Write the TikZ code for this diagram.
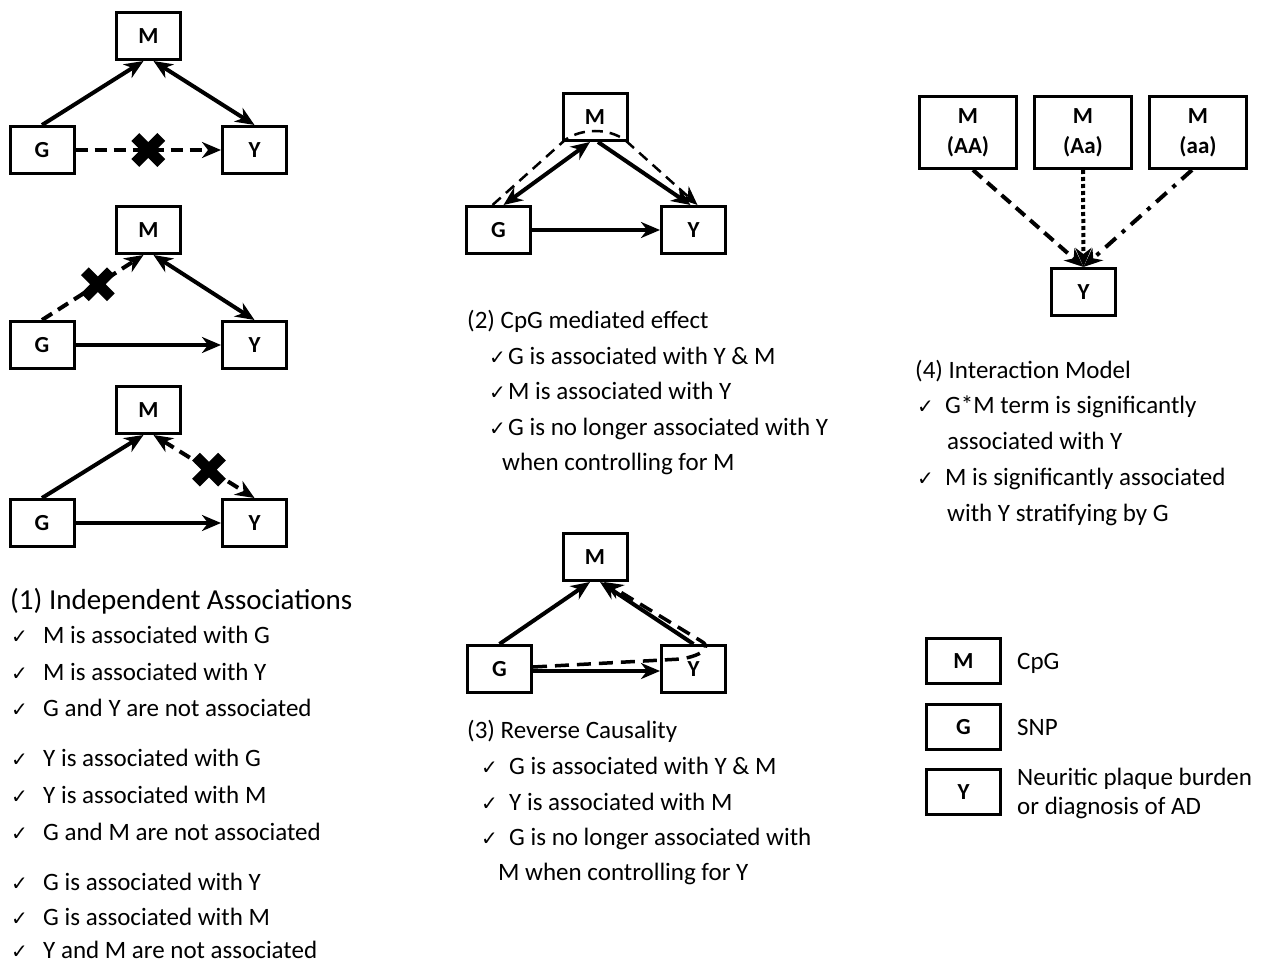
\documentclass[tikz,border=0pt]{standalone}
\usepackage{fontspec}
\setmainfont{Carlito}
\newfontfamily\dejavu{DejaVu Sans}
\usetikzlibrary{arrows.meta}
\newcommand\chk{{\dejavu\fontsize{20}{20}\selectfont ✓}}
\tikzset{
  box/.style={draw, line width=3pt, minimum width=64pt, minimum height=47pt, inner sep=0pt,
    font=\fontsize{23}{30}\selectfont\bfseries},
  bigbox/.style={box, minimum width=97pt, minimum height=72pt, align=center},
  legbox/.style={box, minimum width=74pt, minimum height=45pt},
  tp/.tip={Stealth[length=19pt,width=16pt,inset=6pt]},
  tip/.style={-tp},
  conn/.style={line width=4pt, tip},
  both/.style={line width=4pt, tp-tp},
  dsh/.style={dash pattern=on 12pt off 7pt},
  xm/.style={line width=11pt},
  txt/.style={anchor=base west, inner sep=0pt, font=\fontsize{25}{28}\selectfont},
  head/.style={anchor=base west, inner sep=0pt, font=\fontsize{29}{30}\selectfont},
  ckn/.style={anchor=base west, inner sep=0pt},
}
\begin{document}
\begin{tikzpicture}[x=1pt,y=-1pt]
\useasboundingbox (0,0) rectangle (1263,963);

% ---------- (1a)
\node[box] (M1) at (148.5,36) {M};
\node[box] (G1) at (42,150) {G};
\node[box] (Y1) at (254.5,150) {Y};
\draw[conn] (G1.north) -- ([xshift=-5pt]M1.south);
\draw[both] ([xshift=5pt]M1.south) -- (Y1.north);
\draw[conn,dsh] (G1.east) -- coordinate[pos=0.5] (x1) (Y1.west);
\draw[xm] (x1) ++(-13,-13) -- ++(26,26) (x1) ++(-13,13) -- ++(26,-26);

% ---------- (1b)
\node[box] (M2) at (148.5,230) {M};
\node[box] (G2) at (42,345) {G};
\node[box] (Y2) at (254.5,345) {Y};
\draw[conn,dsh] (G2.north) -- coordinate[pos=0.55] (x2) ([xshift=-5pt]M2.south);
\draw[both] ([xshift=5pt]M2.south) -- (Y2.north);
\draw[conn] (G2.east) -- (Y2.west);
\draw[xm] (x2) ++(-13,-13) -- ++(26,26) (x2) ++(-13,13) -- ++(26,-26);

% ---------- (1c)
\node[box] (M3) at (148.5,410) {M};
\node[box] (G3) at (42,523) {G};
\node[box] (Y3) at (254.5,523) {Y};
\draw[conn] (G3.north) -- ([xshift=-5pt]M3.south);
\draw[both,dsh] ([xshift=5pt]M3.south) -- coordinate[pos=0.55] (x3) (Y3.north);
\draw[conn] (G3.east) -- (Y3.west);
\draw[xm] (x3) ++(-13,-13) -- ++(26,26) (x3) ++(-13,13) -- ++(26,-26);

% ---------- (2)
\node[box] (M4) at (595,117) {M};
\node[box] (G4) at (498.5,230) {G};
\node[box] (Y4) at (693.5,230) {Y};
\draw[both] ([xshift=5pt]G4.north) -- ([xshift=-5pt]M4.south);
\draw[conn] ([xshift=3pt]M4.south) -- ([xshift=-3pt]Y4.north);
\draw[conn] (G4.east) -- (Y4.west);
\coordinate (d1) at (565,140);
\coordinate (d2) at (625,140);
\draw[conn,line width=2.5pt,dash pattern=on 11pt off 7pt] ([xshift=-6pt]G4.north) -- (d1) .. controls (582,128) and (608,128) .. (d2) -- ([xshift=4pt]Y4.north);

% ---------- (3)
\node[box] (M5) at (595,557) {M};
\node[box] (G5) at (499.5,669) {G};
\node[box] (Y5) at (693.5,669) {Y};
\draw[conn] (G5.north) -- ([xshift=-5pt]M5.south);
\draw[conn] (Y5.north) -- ([xshift=5pt]M5.south);
\draw[conn] ([yshift=-2pt]G5.east) -- ([yshift=-2pt]Y5.west);
\coordinate (r1) at (681,659);
\coordinate (r2) at (701,641);
\draw[conn,line width=3.5pt,dash pattern=on 14pt off 8pt] ([yshift=2pt]G5.east) -- (r1) .. controls (705,655) and (711,646) .. (r2) -- ([xshift=9pt]M5.south);

% ---------- (4)
\node[bigbox] (A1) at (968,132.5) {M\\(AA)};
\node[bigbox] (A2) at (1083,132.5) {M\\(Aa)};
\node[bigbox] (A3) at (1198,132.5) {M\\(aa)};
\node[box] (Y6) at (1083.5,292) {Y};
\draw[conn,dash pattern=on 12pt off 7pt] ([xshift=5pt]A1.south) -- (Y6.north);
\draw[conn,dash pattern=on 4pt off 3pt] (A2.south) -- (Y6.north);
\draw[conn,dash pattern=on 14pt off 8pt on 4pt off 8pt] ([xshift=-6pt]A3.south) -- (Y6.north);

% ---------- legend
\node[legbox] (LM) at (963.5,661) {M};
\node[legbox] (LG) at (963.5,727) {G};
\node[legbox] (LY) at (963.5,792) {Y};
\node[txt] (LMt) at (1017,669) {CpG};
\node[txt] (LGt) at (1017,735) {SNP};
\node[txt] (LYt1) at (1017,785) {Neuritic plaque burden};
\node[txt] (LYt2) at (1017,814) {or diagnosis of AD};

% ---------- texts (1)
\node[head] (h1) at (10,609) {(1) Independent Associations};
\foreach \i/\yb/\t in {1/643/{M is associated with G},2/680/{M is associated with Y},3/716/{G and Y are not associated},
  4/766/{Y is associated with G},5/803/{Y is associated with M},6/840/{G and M are not associated},
  7/890/{G is associated with Y},8/925/{G is associated with M},9/958/{Y and M are not associated}}{
  \node[ckn] (c1-\i) at (11,\yb) {\chk};
  \node[txt] (t1-\i) at (43,\yb) {\t};
}

% ---------- texts (2)
\node[txt] (h2) at (467,328) {(2) CpG mediated effect};
\foreach \i/\yb/\t in {1/364/{G is associated with Y \& M},2/399/{M is associated with Y},3/435/{G is no longer associated with Y}}{
  \node[ckn] (c2-\i) at (489,\yb) {\chk};
  \node[txt] (t2-\i) at (508,\yb) {\t};
}
\node[txt] (t2-4) at (502,470) {when controlling for M};

% ---------- texts (3)
\node[txt] (h3) at (467,738) {(3) Reverse Causality};
\foreach \i/\yb/\t in {1/774/{G is associated with Y \& M},2/810/{Y is associated with M},3/845/{G is no longer associated with}}{
  \node[ckn] (c3-\i) at (481,\yb) {\chk};
  \node[txt] (t3-\i) at (509,\yb) {\t};
}
\node[txt] (t3-4) at (498,880) {M when controlling for Y};

% ---------- texts (4)
\node[txt] (h4) at (915,378) {(4) Interaction Model};
\node[ckn] (c4-1) at (917,413) {\chk};
\node[txt] (t4-1) at (945,413) {G*M term is significantly};
\node[txt] (t4-2) at (947,449) {associated with Y};
\node[ckn] (c4-3) at (917,485) {\chk};
\node[txt] (t4-3) at (945,485) {M is significantly associated};
\node[txt] (t4-4) at (947,521) {with Y stratifying by G};
\end{tikzpicture}
\end{document}
